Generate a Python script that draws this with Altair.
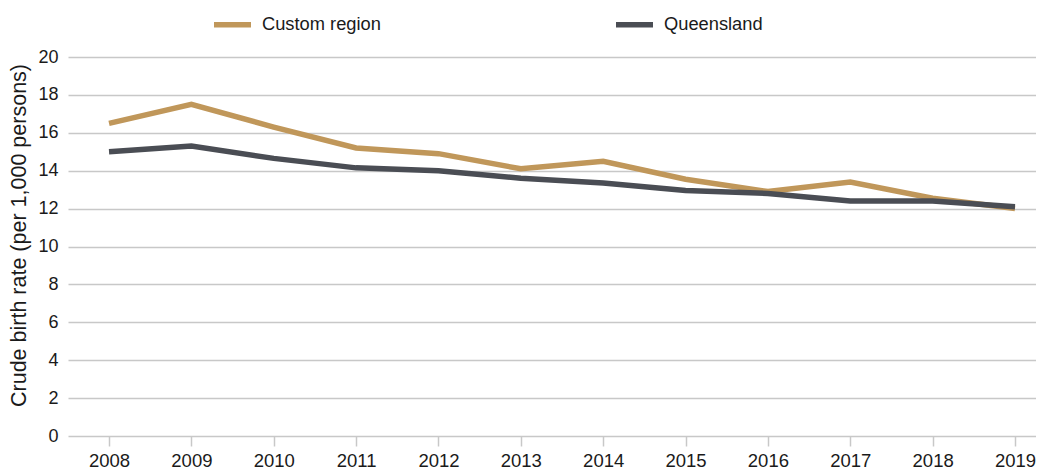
import altair as alt
import pandas as pd

years = [2008, 2009, 2010, 2011, 2012, 2013, 2014, 2015, 2016, 2017, 2018, 2019]
custom_region = [16.5, 17.5, 16.3, 15.2, 14.9, 14.1, 14.5, 13.55, 12.9, 13.4, 12.55, 12.0]
queensland = [15.0, 15.3, 14.65, 14.15, 14.0, 13.6, 13.35, 12.95, 12.8, 12.4, 12.4, 12.1]
series_names = ["Custom region", "Queensland"]
series_colors = ["#C0975A", "#4A4D54"]

rows = []
for name, vals in zip(series_names, [custom_region, queensland]):
    for y, v in zip(years, vals):
        rows.append({"Year": y, "Series": name, "Value": v})
df = pd.DataFrame(rows)

FONT = "Liberation Sans"

chart = alt.Chart(df).mark_line(strokeWidth=5.5).encode(
    x=alt.X("Year:Q",
            scale=alt.Scale(domain=[2007.502, 2019.255], nice=False, zero=False),
            axis=alt.Axis(values=years, format="d", title=None, grid=False, domain=False,
                          ticks=True, tickColor="#c8c8c8", tickWidth=1.5, tickSize=10,
                          labelFontSize=18.5, labelColor="#1a1a1a", labelPadding=5,
                          labelFont=FONT)),
    y=alt.Y("Value:Q",
            scale=alt.Scale(domain=[0, 20], nice=False),
            axis=alt.Axis(values=list(range(0, 21, 2)), title="Crude birth rate (per 1,000 persons)",
                          grid=True, gridColor="#c8c8c8", gridWidth=1.5, domain=False, ticks=False,
                          labelFontSize=18, labelColor="#1a1a1a", labelPadding=10,
                          labelFont=FONT, titleFont=FONT,
                          titleFontSize=21.5, titleFontWeight="normal", titleColor="#1a1a1a",
                          titlePadding=7, titleY=178)),
    color=alt.Color("Series:N",
                    scale=alt.Scale(domain=series_names, range=series_colors),
                    legend=alt.Legend(title=None, orient="none", legendX=143, legendY=-54,
                                      direction="horizontal", symbolType="stroke",
                                      symbolSize=1369, symbolStrokeWidth=5.5,
                                      labelFontSize=18.3, labelFont=FONT,
                                      labelColor="#1a1a1a", labelOffset=8,
                                      columnPadding=224)),
).properties(
    width=968, height=379,
    autosize=alt.AutoSizeParams(type="none"),
    padding={"left": 60, "top": 49, "right": 0, "bottom": 40},
).configure_view(stroke=None)

chart.save("out.html", embed_options={"renderer": "svg", "actions": False})
